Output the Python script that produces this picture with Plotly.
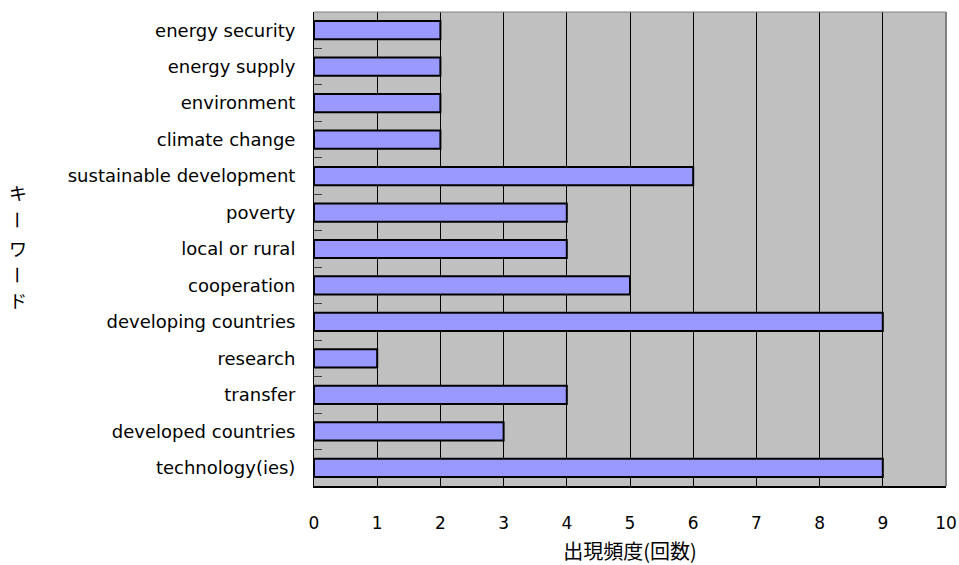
import plotly.graph_objects as go

categories = ["energy security", "energy supply", "environment", "climate change",
              "sustainable development", "poverty", "local or rural", "cooperation",
              "developing countries", "research", "transfer", "developed countries",
              "technology(ies)"]
values = [2, 2, 2, 2, 6, 4, 4, 5, 9, 1, 4, 3, 9]
x_ticks = list(range(0, 11))

FONT = "DejaVu Sans, Noto Sans CJK JP"
CJK = "Noto Sans CJK JP"

fig = go.Figure()
fig.add_trace(go.Bar(
    y=categories, x=values, orientation="h",
    marker=dict(color="#9999FF", line=dict(color="black", width=2)),
    width=0.5,
))

fig.update_layout(
    width=959, height=565,
    margin=dict(l=314, r=13, t=12, b=79, autoexpand=False),
    paper_bgcolor="white", plot_bgcolor="#C0C0C0",
    showlegend=False,
    font=dict(family=FONT, size=18, color="black"),
    bargap=0.5,
)
fig.update_xaxes(
    range=[0, 10], tickvals=x_ticks, ticktext=[str(v) for v in x_ticks],
    showgrid=True, gridcolor="black", gridwidth=1,
    ticks="inside", ticklen=6, tickcolor="black",
    showline=True, linecolor="black", linewidth=2,
    ticklabelstandoff=21, tickfont=dict(size=17),
    title=dict(text="出現頻度(回数)", font=dict(size=20, family=CJK), standoff=15),
    zeroline=False, automargin=False,
)
fig.update_yaxes(
    categoryorder="array", categoryarray=categories[::-1],
    autorange=False, range=[-0.5, len(categories) - 0.5],
    ticks="inside", tickson="boundaries", ticklen=8, tickcolor="#404040",
    showline=True, linecolor="black", linewidth=1,
    showgrid=False, ticklabelstandoff=14, tickfont=dict(size=18),
    automargin=False,
)
# gray frame top/right
fig.add_shape(type="line", xref="paper", yref="paper", x0=0, x1=1, y0=1, y1=1,
              line=dict(color="#808080", width=1))
fig.add_shape(type="line", xref="paper", yref="paper", x0=1, x1=1, y0=0, y1=1,
              line=dict(color="#808080", width=2))

# vertical y-axis title
chars = ["キ", "ー", "ワ", "ー", "ド"]
ys = [192, 220, 248, 275, 300]
for ch, yy in zip(chars, ys):
    fig.add_annotation(
        text=ch, xref="paper", yref="paper",
        x=(18 - 314) / (959 - 314 - 13), y=1 - (yy - 12) / (565 - 12 - 79),
        showarrow=False, textangle=90 if ch == "ー" else 0,
        font=dict(size=18, family=CJK), xanchor="center", yanchor="middle",
    )

fig.write_html("out.html")
